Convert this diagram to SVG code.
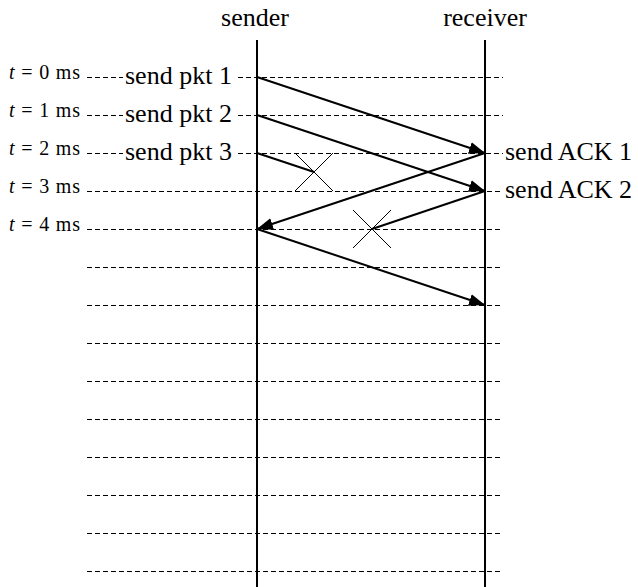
<svg xmlns="http://www.w3.org/2000/svg" width="638" height="587" viewBox="0 0 638 587">
  <style>
    .grid { stroke: #000; stroke-width: 1; stroke-dasharray: 5 3; fill: none; shape-rendering: crispEdges; }
    .life { stroke: #000; stroke-width: 2; fill: none; }
    .msg { stroke: #000; stroke-width: 2; fill: none; }
    .lost { stroke: #000; stroke-width: 1; fill: none; }
    .big { font-family: "Liberation Serif", "DejaVu Serif", serif; font-size: 26px; fill: #000; }
    .time { font-family: "Liberation Serif", "DejaVu Serif", serif; font-size: 20px; fill: #000; }
  </style>
  <defs>
    <marker id="arrow" viewBox="0 0 16 12" refX="16" refY="6" markerWidth="16" markerHeight="12" markerUnits="userSpaceOnUse" orient="auto">
      <path d="M0,0 L16,6 L0,12 Z" fill="#000"/>
    </marker>
  </defs>

  <rect width="638" height="587" fill="#fff"/>

  <!-- time grid -->
  <g id="grid">
    <line class="grid" x1="87" y1="77" x2="123" y2="77"/>
    <line class="grid" x1="238" y1="77" x2="503" y2="77"/>
    <line class="grid" x1="87" y1="115" x2="123" y2="115"/>
    <line class="grid" x1="238" y1="115" x2="503" y2="115"/>
    <line class="grid" x1="87" y1="153" x2="123" y2="153"/>
    <line class="grid" x1="238" y1="153" x2="503" y2="153"/>
    <line class="grid" x1="87" y1="191" x2="503" y2="191"/>
    <line class="grid" x1="87" y1="229" x2="503" y2="229"/>
    <line class="grid" x1="87" y1="267" x2="503" y2="267"/>
    <line class="grid" x1="87" y1="305" x2="503" y2="305"/>
    <line class="grid" x1="87" y1="343" x2="503" y2="343"/>
    <line class="grid" x1="87" y1="381" x2="503" y2="381"/>
    <line class="grid" x1="87" y1="419" x2="503" y2="419"/>
    <line class="grid" x1="87" y1="457" x2="503" y2="457"/>
    <line class="grid" x1="87" y1="495" x2="503" y2="495"/>
    <line class="grid" x1="87" y1="533" x2="503" y2="533"/>
    <line class="grid" x1="87" y1="571" x2="503" y2="571"/>
  </g>

  <!-- time labels -->
  <g id="time-labels">
    <text class="time" x="9" y="79" textLength="71"><tspan font-style="italic">t</tspan> = 0 ms</text>
    <text class="time" x="9" y="117" textLength="71"><tspan font-style="italic">t</tspan> = 1 ms</text>
    <text class="time" x="9" y="155" textLength="71"><tspan font-style="italic">t</tspan> = 2 ms</text>
    <text class="time" x="9" y="193" textLength="71"><tspan font-style="italic">t</tspan> = 3 ms</text>
    <text class="time" x="9" y="231" textLength="71"><tspan font-style="italic">t</tspan> = 4 ms</text>
  </g>

  <!-- sender lifeline -->
  <g id="sender">
    <text class="big" x="255" y="26" text-anchor="middle">sender</text>
    <line class="life" x1="257" y1="40" x2="257" y2="587"/>
    <text class="big" x="125" y="84">send pkt 1</text>
    <text class="big" x="125" y="122">send pkt 2</text>
    <text class="big" x="125" y="160">send pkt 3</text>
  </g>

  <!-- receiver lifeline -->
  <g id="receiver">
    <text class="big" x="485" y="26" text-anchor="middle">receiver</text>
    <line class="life" x1="485" y1="40" x2="485" y2="587"/>
    <text class="big" x="505" y="160">send ACK 1</text>
    <text class="big" x="505" y="198">send ACK 2</text>
  </g>

  <!-- messages -->
  <g id="connectors">
    <line class="msg" x1="257" y1="77" x2="485" y2="153" marker-end="url(#arrow)"/>
    <line class="msg" x1="257" y1="115" x2="485" y2="191" marker-end="url(#arrow)"/>
    <line class="msg" x1="257" y1="153" x2="314" y2="172"/>
    <line class="msg" x1="485" y1="153" x2="257" y2="229" marker-end="url(#arrow)"/>
    <line class="msg" x1="485" y1="191" x2="372" y2="229"/>
    <line class="msg" x1="257" y1="229" x2="485" y2="305" marker-end="url(#arrow)"/>
  </g>

  <!-- lost-packet marks -->
  <g id="loss-pkt3">
    <line class="lost" x1="295" y1="153" x2="333" y2="191"/>
    <line class="lost" x1="333" y1="153" x2="295" y2="191"/>
  </g>
  <g id="loss-ack2">
    <line class="lost" x1="353" y1="210" x2="391" y2="248"/>
    <line class="lost" x1="391" y1="210" x2="353" y2="248"/>
  </g>
</svg>
